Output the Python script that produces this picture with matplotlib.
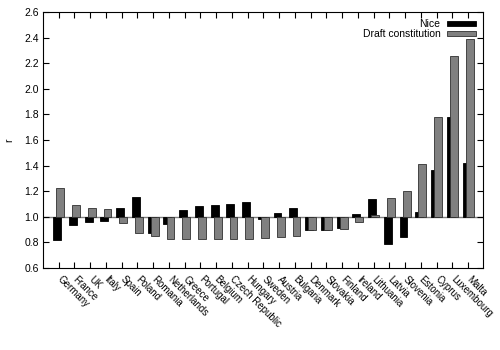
import matplotlib
matplotlib.use("Agg")
import matplotlib.pyplot as plt
import numpy as np

countries = ["Germany", "France", "UK", "Italy", "Spain", "Poland", "Romania",
             "Netherlands", "Greece", "Portugal", "Belgium", "Czech Republic",
             "Hungary", "Sweden", "Austria", "Bulgaria", "Denmark", "Slovakia",
             "Finland", "Ireland", "Lithuania", "Latvia", "Slovenia", "Estonia",
             "Cyprus", "Luxembourg", "Malta"]
nice = [0.823, 0.935, 0.956, 0.969, 1.068, 1.154, 0.877, 0.943, 1.057, 1.086,
        1.091, 1.104, 1.115, 0.98, 1.031, 1.07, 0.896, 0.898, 0.91, 1.02,
        1.138, 0.79, 0.844, 1.039, 1.362, 1.777, 1.422]
draft = [1.227, 1.091, 1.073, 1.06, 0.95, 0.877, 0.854, 0.828, 0.825, 0.828,
         0.828, 0.828, 0.828, 0.836, 0.84, 0.85, 0.90, 0.90, 0.906, 0.956,
         1.013, 1.151, 1.203, 1.409, 1.777, 2.252, 2.39]
yticks = [0.6, 0.8, 1.0, 1.2, 1.4, 1.6, 1.8, 2.0, 2.2, 2.4, 2.6]

plt.rcParams['font.family'] = ['Liberation Sans', 'DejaVu Sans']
plt.rcParams['font.size'] = 7.5

fig = plt.figure(figsize=(5, 3.5), dpi=100)
ax = fig.add_axes([0.086, 0.234, 0.880, 0.732])

x = np.arange(len(countries))
base = 1.0
nice_h = [v - base for v in nice]
draft_h = [v - base for v in draft]
ax.axhline(1.0, color='#808080', lw=1.0, zorder=1)
ax.bar(x - 0.1, nice_h, width=0.5, bottom=base, color='black',
       edgecolor='black', lw=0.6, label='Nice', zorder=2)
ax.bar(x + 0.1, draft_h, width=0.5, bottom=base, color='#808080',
       edgecolor='#303030', lw=0.6, label='Draft constitution', zorder=3)

ax.set_xlim(-1.0, len(countries) - 0.05)
ax.set_ylim(0.6, 2.6)
ax.set_yticks(yticks)
ax.set_yticklabels([f"{t:.1f}" for t in yticks])
ax.set_xticks(x)
ax.set_xticklabels(countries, rotation=-45, ha='left', va='center',
                   rotation_mode='anchor', fontsize=7.0)
ax.tick_params(direction='in', top=True, right=True, length=4, width=0.8,
               pad=3)
ax.tick_params(axis='x', pad=7)
for s in ax.spines.values():
    s.set_linewidth(0.8)
ax.set_ylabel('r', labelpad=7)

leg = ax.legend(loc='upper right', frameon=False, markerfirst=False,
                handlelength=2.8, handleheight=0.5, labelspacing=0.0,
                borderaxespad=0.3, handletextpad=0.6)
for t in leg.get_texts():
    t.set_ha('right')

fig.savefig('out.png', dpi=100)
